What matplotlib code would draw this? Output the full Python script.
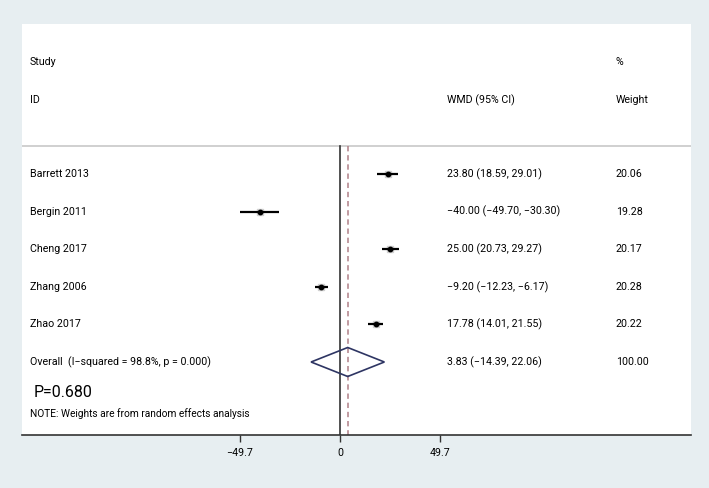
import matplotlib
matplotlib.use("Agg")
import matplotlib.pyplot as plt
from matplotlib.patches import Polygon

studies = ["Barrett 2013", "Bergin 2011", "Cheng 2017", "Zhang 2006", "Zhao 2017"]
wmd = [23.80, -40.00, 25.00, -9.20, 17.78]
ci_lo = [18.59, -49.70, 20.73, -12.23, 14.01]
ci_hi = [29.01, -30.30, 29.27, -6.17, 21.55]
weights = [20.06, 19.28, 20.17, 20.28, 20.22]
overall_label = "Overall  (I\u2212squared = 98.8%, p = 0.000)"
overall = 3.83
overall_lo = -14.39
overall_hi = 22.06
overall_weight = 100.00
tick_vals = [-49.7, 0, 49.7]
tick_labels = ["\u221249.7", "0", "49.7"]

W, H = 709, 488
BG = "#e7eef1"
plt.rcParams['font.family'] = ['Roboto', 'DejaVu Sans']

fig = plt.figure(figsize=(W/100, H/100), dpi=100, facecolor=BG)
L, R, T, B = 22, 691, 24, 435
ax = fig.add_axes([L/W, 1 - B/H, (R-L)/W, (B-T)/H])
ax.set_facecolor("white")
ppu = 100/49.7
x0 = 340
ax.set_xlim((L - x0)/ppu, (R - x0)/ppu)
ax.set_ylim(B, T)

def px2x(px):
    return (px - x0)/ppu

for s in ["top", "left", "right"]:
    ax.spines[s].set_visible(False)
ax.spines["bottom"].set_color("#333333")
ax.spines["bottom"].set_linewidth(1.2)
ax.set_yticks([])
ax.set_xticks(tick_vals)
ax.set_xticklabels(tick_labels, fontsize=7.7)
ax.tick_params(axis="x", length=5, width=1, color="#333333", pad=4)

fs = 7.7
col_lab = px2x(30)
col_wmd = px2x(447)
col_w = px2x(616)

ax.text(col_lab, 62, "Study", fontsize=fs, va="center")
ax.text(col_lab, 100, "ID", fontsize=fs, va="center")
ax.text(col_wmd, 100, "WMD (95% CI)", fontsize=fs, va="center")
ax.text(col_w, 62, "%", fontsize=fs, va="center")
ax.text(col_w, 100, "Weight", fontsize=fs, va="center")
ax.axhline(146, color="#c8c8c8", lw=1.2)

row0, dy = 174, 37.6
rows = [row0 + i*dy for i in range(len(studies))]

def fmt(v):
    return f"{v:.2f}".replace("-", "\u2212")

for i, y in enumerate(rows):
    ax.plot([ci_lo[i], ci_hi[i]], [y, y], color="black", lw=1.6, solid_capstyle="butt", zorder=3)
    ax.plot(wmd[i], y, marker="s", ms=5, color="#d0d0d0", zorder=2.5)
    ax.plot(wmd[i], y, marker="o", ms=3.2, color="black", zorder=4)
    ax.text(col_lab, y, studies[i], fontsize=fs, va="center")
    ax.text(col_wmd, y, f"{fmt(wmd[i])} ({fmt(ci_lo[i])}, {fmt(ci_hi[i])})", fontsize=fs, va="center")
    ax.text(col_w, y, f"{weights[i]:.2f}", fontsize=fs, va="center")

yo = row0 + len(studies)*dy
hd = 14.5
diamond = Polygon([[overall_lo, yo], [overall, yo - hd], [overall_hi, yo], [overall, yo + hd]],
                  closed=True, fill=False, edgecolor="#2e3563", lw=1.2, zorder=3)
ax.add_patch(diamond)
ax.text(col_lab, yo, overall_label, fontsize=fs, va="center")
ax.text(col_wmd, yo, f"{fmt(overall)} ({fmt(overall_lo)}, {fmt(overall_hi)})", fontsize=fs, va="center")
ax.text(col_w, yo, f"{overall_weight:.2f}", fontsize=fs, va="center")

ax.plot([0, 0], [146, B], color="#333333", lw=1.2, zorder=2)
ax.plot([overall, overall], [146, B], color="#b08088", lw=1.1, ls=(0, (3.5, 2.5)), zorder=2)

ax.text(px2x(34), 392, "P=0.680", fontsize=11.5, va="center")
ax.text(col_lab, 414, "NOTE: Weights are from random effects analysis", fontsize=7.3, va="center")

fig.savefig("out.png", dpi=100, facecolor=BG)
